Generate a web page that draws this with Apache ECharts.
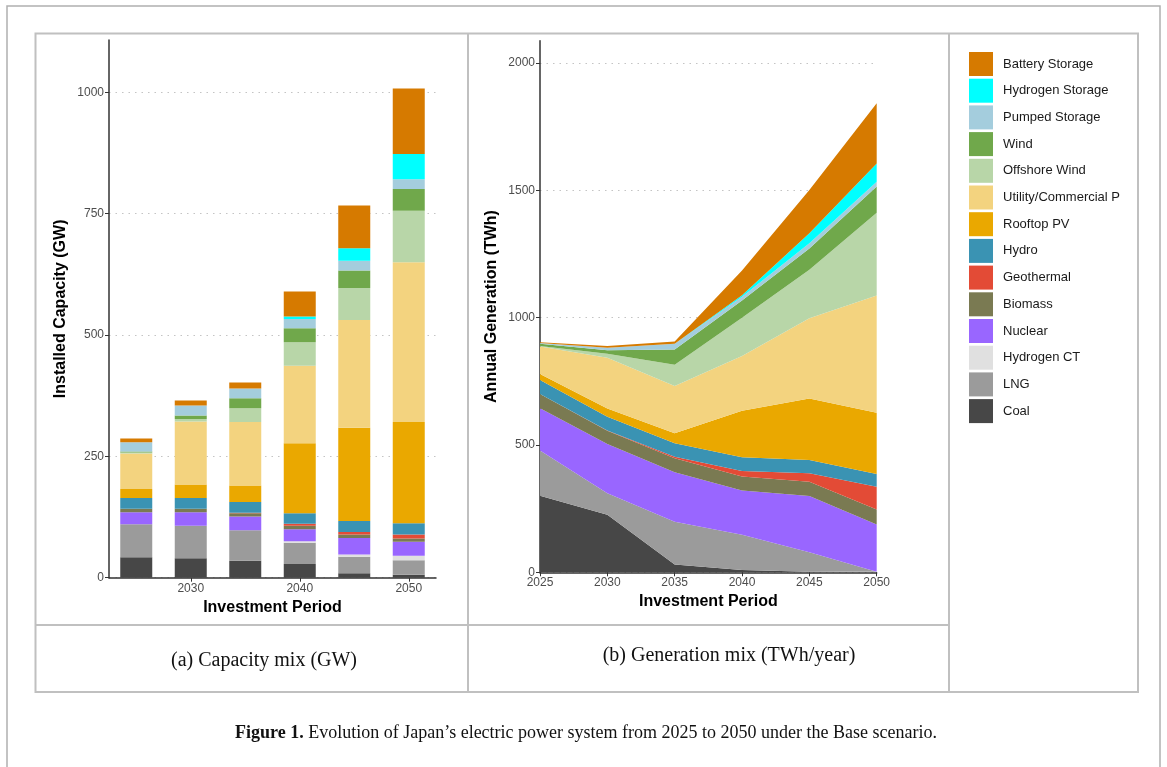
<!DOCTYPE html>
<html>
<head>
<meta charset="utf-8">
<script src="https://cdn.jsdelivr.net/npm/echarts@6/dist/echarts.min.js"></script>
<style>
html,body{margin:0;padding:0;background:#fff;}
#chart{width:1167px;height:767px;}
</style>
</head>
<body>
<div id="chart"></div>
<script>
// investment periods
var years = ["2025", "2030", "2035", "2040", "2045", "2050"];
var capLabels = ["2030", "2040", "2050"];

// stacking order, bottom first
var techs = ["Coal", "LNG", "Hydrogen CT", "Nuclear", "Biomass", "Geothermal", "Hydro",
  "Rooftop PV", "Utility/Commercial PV", "Offshore Wind", "Wind", "Pumped Storage",
  "Hydrogen Storage", "Battery Storage"];

var techColors = ["#474747", "#9b9b9b", "#e0e0e0", "#9966ff", "#7a7a52", "#e34b36", "#3a93b3",
  "#eaa800", "#f3d37f", "#b8d6a8", "#70a84b", "#a4cddd", "#00ffff", "#d67a00"];

// (a) capacity, GW
var capCoal     = [42, 40, 35, 28, 9, 6];
var capLNG      = [68, 67, 63, 44, 34, 30];
var capH2CT     = [0, 0, 0, 3, 5, 9];
var capNuclear  = [25, 28, 28, 25, 34, 29];
var capBiomass  = [7, 7, 7, 7, 7, 7];
var capGeo      = [0, 0, 1, 4, 5, 8];
var capHydro    = [22, 22, 22, 22, 23, 23];
var capRooftop  = [19, 28, 34, 144, 192, 209];
var capUtility  = [73, 130, 131, 160, 222, 329];
var capOffshore = [2, 5, 28, 48, 66, 106];
var capWind     = [2, 7, 21, 29, 36, 45];
var capPumped   = [19, 21, 20, 19, 20, 20];
var capH2Store  = [0, 0, 0, 5, 26, 52];
var capBattery  = [8, 10, 12, 52, 88, 135];

// (b) generation, TWh
var genCoal     = [301, 226, 31, 9, 2, 0];
var genLNG      = [177, 84, 168, 138, 77, 2];
var genH2CT     = [0, 0, 0, 0, 0, 0];
var genNuclear  = [166, 194, 194, 174, 221, 186];
var genBiomass  = [56, 52, 55, 55, 56, 59];
var genGeo      = [0, 1, 6, 22, 33, 89];
var genHydro    = [55, 54, 53, 54, 52, 50];
var genRooftop  = [24, 32, 39, 183, 242, 241];
var genUtility  = [108, 200, 186, 215, 315, 460];
var genOffshore = [2, 15, 83, 150, 190, 325];
var genWind     = [9, 14, 60, 68, 84, 103];
var genPumped   = [3, 10, 23, 14, 20, 19];
var genH2Store  = [0, 0, 0, 6, 40, 72];
var genBattery  = [3, 7, 9, 97, 170, 236];

var capData = [capCoal, capLNG, capH2CT, capNuclear, capBiomass, capGeo, capHydro,
  capRooftop, capUtility, capOffshore, capWind, capPumped, capH2Store, capBattery];
var genData = [genCoal, genLNG, genH2CT, genNuclear, genBiomass, genGeo, genHydro,
  genRooftop, genUtility, genOffshore, genWind, genPumped, genH2Store, genBattery];

var sans = "Liberation Sans";
var serif = "Liberation Serif";

function plain(v) { return String(v); }
function onlyCapLabels(idx, val) { return capLabels.indexOf(String(val)) >= 0; }

var series = [];
for (var i = 0; i < techs.length; i++) {
  series.push({
    name: techs[i],
    type: "bar",
    xAxisIndex: 0,
    yAxisIndex: 0,
    stack: "cap",
    barWidth: 32,
    itemStyle: { color: techColors[i] },
    data: capData[i]
  });
}
for (var j = 0; j < techs.length; j++) {
  series.push({
    name: techs[j],
    type: "line",
    xAxisIndex: 1,
    yAxisIndex: 1,
    stack: "gen",
    showSymbol: false,
    symbol: "none",
    lineStyle: { width: 0 },
    areaStyle: { color: techColors[j], opacity: 1 },
    itemStyle: { color: techColors[j] },
    data: genData[j]
  });
}

var axisLine = { show: true, lineStyle: { color: "#333", width: 1.5 } };
var axisTick = { show: true, length: 4, lineStyle: { color: "#333", width: 1 } };
var titleStyle = { color: "#000", fontSize: 16, fontWeight: "bold", fontFamily: sans };
var gridDots = { show: true, showMaxLine: false, lineStyle: { color: "#c4c4c4", width: 1.2, type: [1.5, 5] } };

var option = {
  animation: false,
  backgroundColor: "#fff",
  color: techColors,
  grid: [
    { left: 109, right: 731, top: 40, bottom: 189.3 },
    { left: 540, right: 290.3, top: 40.7, bottom: 194.7 }
  ],
  xAxis: [
    {
      gridIndex: 0, type: "category", data: years, boundaryGap: true,
      name: "Investment Period", nameLocation: "middle", nameGap: 21, nameTextStyle: titleStyle,
      axisLine: axisLine,
      axisTick: { show: true, length: 4, alignWithLabel: true, interval: onlyCapLabels, lineStyle: { color: "#333" } },
      axisLabel: { color: "#4d4d4d", fontSize: 12, fontFamily: sans, margin: 5, interval: onlyCapLabels },
      splitLine: { show: false }
    },
    {
      gridIndex: 1, type: "category", data: years, boundaryGap: false,
      name: "Investment Period", nameLocation: "middle", nameGap: 20, nameTextStyle: titleStyle,
      axisLine: axisLine,
      axisTick: { show: true, length: 4, lineStyle: { color: "#333" } },
      axisLabel: { color: "#4d4d4d", fontSize: 12, fontFamily: sans, margin: 4 },
      splitLine: { show: false }
    }
  ],
  yAxis: [
    {
      gridIndex: 0, type: "value", min: 0, max: 1108, interval: 250,
      name: "Installed Capacity (GW)", nameLocation: "middle", nameGap: 40, nameTextStyle: titleStyle,
      axisLine: axisLine, axisTick: axisTick,
      axisLabel: { color: "#4d4d4d", fontSize: 12, fontFamily: sans, formatter: plain, margin: 5, showMaxLabel: false },
      splitLine: gridDots
    },
    {
      gridIndex: 1, type: "value", min: 0, max: 2088, interval: 500,
      name: "Annual Generation (TWh)", nameLocation: "middle", nameGap: 40, nameTextStyle: titleStyle,
      axisLine: axisLine, axisTick: axisTick,
      axisLabel: { color: "#4d4d4d", fontSize: 12, fontFamily: sans, formatter: plain, margin: 5, showMaxLabel: false },
      splitLine: gridDots
    }
  ],
  legend: {
    orient: "vertical",
    left: 969,
    top: 52,
    icon: "rect",
    itemWidth: 24,
    itemHeight: 24,
    itemGap: 2.7,
    padding: 0,
    selectedMode: false,
    data: techs.slice().reverse(),
    textStyle: {
      color: "#1a1a1a", fontSize: 13, fontFamily: sans,
      padding: [0, 0, 0, 5], width: 126, overflow: "truncate", ellipsis: ""
    }
  },
  graphic: [
    // outer page frame
    { type: "rect", silent: true, shape: { x: 7, y: 6, width: 1153, height: 800 },
      style: { fill: "none", stroke: "#b0b0b0", lineWidth: 1.5 } },
    // figure table
    { type: "rect", silent: true, shape: { x: 35.5, y: 33.5, width: 1102.5, height: 658.5 },
      style: { fill: "none", stroke: "#c0c0c0", lineWidth: 2 } },
    { type: "line", silent: true, shape: { x1: 468, y1: 33.5, x2: 468, y2: 692 },
      style: { stroke: "#c0c0c0", lineWidth: 2 } },
    { type: "line", silent: true, shape: { x1: 949, y1: 33.5, x2: 949, y2: 692 },
      style: { stroke: "#c0c0c0", lineWidth: 2 } },
    { type: "line", silent: true, shape: { x1: 35.5, y1: 625, x2: 949, y2: 625 },
      style: { stroke: "#c0c0c0", lineWidth: 2 } },
    { type: "text", silent: true, x: 264, y: 661,
      style: { text: "(a) Capacity mix (GW)", font: "20px " + serif, fill: "#111", align: "center", verticalAlign: "middle" } },
    { type: "text", silent: true, x: 729, y: 656,
      style: { text: "(b) Generation mix (TWh/year)", font: "20px " + serif, fill: "#111", align: "center", verticalAlign: "middle" } },
    { type: "text", silent: true, x: 586, y: 733,
      style: {
        text: "{b|Figure 1.} Evolution of Japan\u2019s electric power system from 2025 to 2050 under the Base scenario.",
        align: "center", verticalAlign: "middle", font: "18px " + serif, fill: "#111",
        rich: { b: { fontWeight: "bold", fontSize: 18, fontFamily: serif, fill: "#111" } }
      } }
  ],
  series: series
};

var myChart = echarts.init(document.getElementById("chart"), null, { renderer: "canvas" });
myChart.setOption(option);
window.addEventListener("resize", function () {
  myChart.resize();
});
</script>
</body>
</html>
